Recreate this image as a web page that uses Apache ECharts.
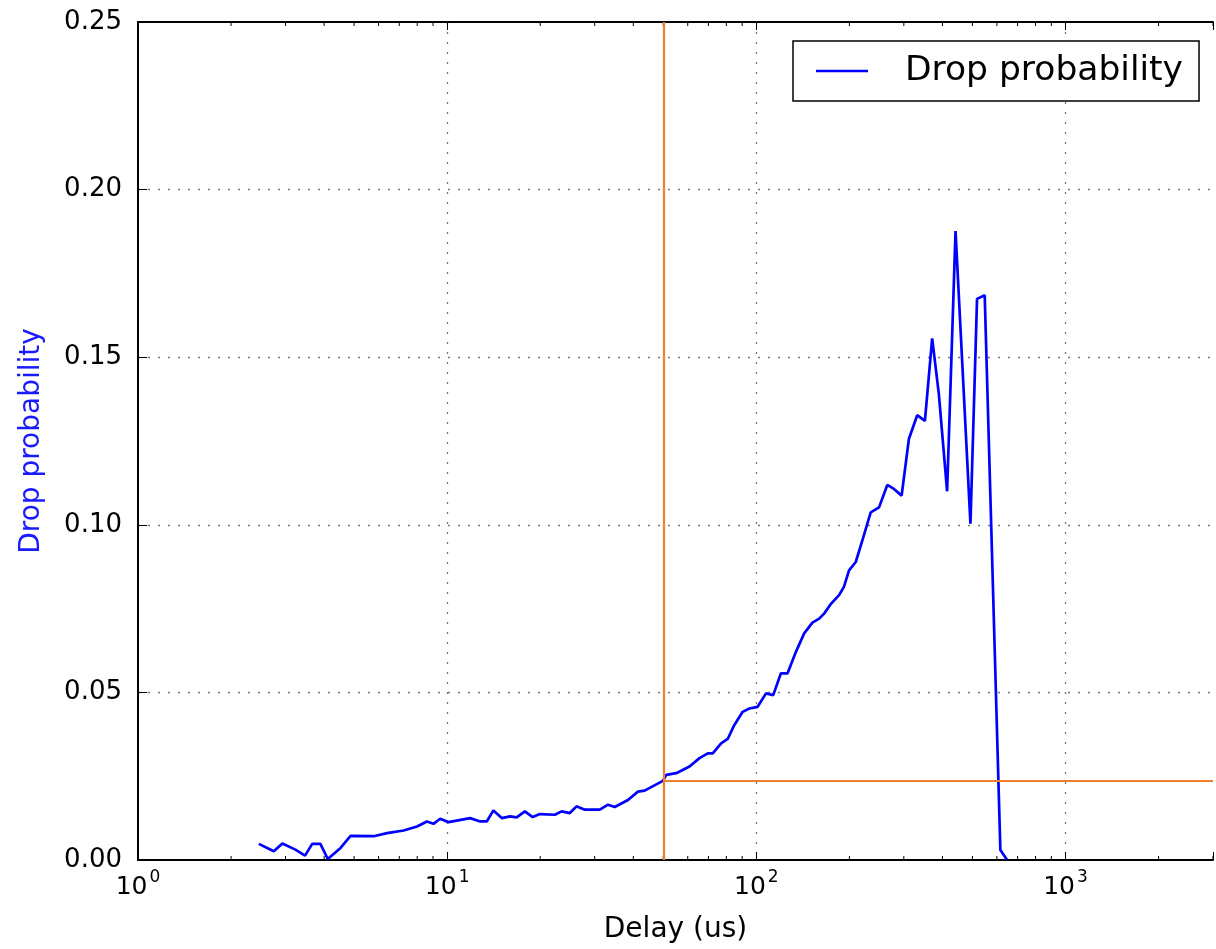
<!DOCTYPE html>
<html>
<head>
<meta charset="utf-8">
<script src="https://cdn.jsdelivr.net/npm/echarts@6/dist/echarts.min.js"></script>
<style>
html,body{margin:0;padding:0;background:#fff;}
#chart{width:1216px;height:949px;}
</style>
</head>
<body>
<div id="chart"></div>
<script>
// Delay (us) sample positions
const delays = [2.46, 2.75, 2.93, 3.23, 3.47, 3.66, 3.89, 4.11, 4.52, 4.87, 5.79, 6.39, 7.23, 7.99, 8.60, 9.03, 9.49, 10.1, 11.87, 12.78, 13.43, 14.11, 15.02, 15.97, 16.78, 17.84, 18.90, 19.95, 22.31, 23.44, 24.94, 26.20, 27.87, 31.16, 33.14, 34.83, 38.45, 41.41, 43.52, 49.86, 51.14, 55.08, 60.79, 65.49, 69.66, 72.28, 76.92, 80.79, 84.92, 90.33, 94.93, 100.97, 107.5, 113.4, 120.1, 126.2, 134.3, 142.8, 151.9, 159.7, 165.7, 174.6, 185.2, 192.0, 199.5, 209.7, 221.4, 234.4, 249.4, 265.2, 278.7, 295.1, 311.5, 331.4, 351.0, 370.5, 389.4, 414.1, 440.9, 492.7, 517.5, 547.9, 615.7, 646.6];
// Drop probability values
const dropProb = [0.0048, 0.0026, 0.0049, 0.0031, 0.0013, 0.0048, 0.0048, 0.0003, 0.0036, 0.0072, 0.0071, 0.0080, 0.0088, 0.0100, 0.0115, 0.0108, 0.0123, 0.0113, 0.0125, 0.0115, 0.0115, 0.0148, 0.0125, 0.0130, 0.0127, 0.0145, 0.0128, 0.0137, 0.0135, 0.0145, 0.0140, 0.0160, 0.0150, 0.0150, 0.0165, 0.0158, 0.0179, 0.0204, 0.0207, 0.0236, 0.0254, 0.0259, 0.0279, 0.0304, 0.0318, 0.0318, 0.0348, 0.0361, 0.0403, 0.0442, 0.0452, 0.0457, 0.0497, 0.0492, 0.0557, 0.0557, 0.0621, 0.0676, 0.0708, 0.0720, 0.0735, 0.0765, 0.0790, 0.0815, 0.0864, 0.0889, 0.0960, 0.1037, 0.1052, 0.1119, 0.1107, 0.1087, 0.1256, 0.1327, 0.1310, 0.1556, 0.1390, 0.1100, 0.1876, 0.1003, 0.1674, 0.1685, 0.0030, 0.0001];
// Threshold marker lines
const thresholdDelay = 50;
const thresholdProb = 0.0237;
// Axis ranges / ticks
const xMin = 1, xMax = 3000;
const yMin = 0, yMax = 0.25, yStep = 0.05;
const minorTicks = [2,3,4,5,6,7,8,9,20,30,40,50,60,70,80,90,200,300,400,500,600,700,800,900,2000,3000];

const FONT = 'DejaVu Sans';
const chart = echarts.init(document.getElementById('chart'));

const lineData = delays.map((d, i) => [d, dropProb[i]]);

function expLabel(v) {
  const e = Math.log10(v);
  const r = Math.round(e);
  if (Math.abs(e - r) > 1e-6 || v >= xMax * 0.999) return '';
  return '{b|10}{s|' + r + '}';
}

const option = {
  animation: false,
  backgroundColor: '#fff',
  grid: { left: 138, top: 22, width: 1077, height: 840, containLabel: false },
  legend: {
    left: 793, top: 41,
    orient: 'horizontal',
    padding: [12, 16, 12, 23],
    borderColor: '#000', borderWidth: 1.5, borderRadius: 0,
    backgroundColor: '#fff',
    itemWidth: 52, itemHeight: 2.5,
    data: [{ name: 'Drop probability', icon: 'rect' }],
    textStyle: { fontFamily: FONT, fontSize: 34.5, color: '#000', lineHeight: 36, padding: [0, 0, 0, 32] }
  },
  xAxis: [
    {
      type: 'log', logBase: 10, min: xMin, max: xMax, position: 'bottom',
      name: 'Delay (us)', nameLocation: 'middle', nameGap: 56,
      nameTextStyle: { fontFamily: FONT, fontSize: 28, color: '#000' },
      axisLine: { show: true, onZero: false, lineStyle: { color: '#000', width: 2 } },
      axisTick: { show: true, inside: true, length: 8, lineStyle: { color: '#000', width: 1 } },
      minorTick: { show: false },
      axisLabel: {
        margin: 8, color: '#000', formatter: expLabel,
        rich: {
          b: { fontFamily: FONT, fontSize: 25, color: '#000', lineHeight: 32, verticalAlign: 'bottom' },
          s: { fontFamily: FONT, fontSize: 17, color: '#000', lineHeight: 32, verticalAlign: 'bottom', padding: [0, 0, 14, 2] }
        }
      },
      splitLine: { show: true, showMinLine: false, showMaxLine: false, lineStyle: { color: '#777', width: 1.3, type: [2, 8] } }
    },
    {
      type: 'log', logBase: 10, min: xMin, max: xMax, position: 'top',
      axisLine: { show: true, onZero: false, lineStyle: { color: '#000', width: 2 } },
      axisTick: { show: true, inside: true, length: 8, lineStyle: { color: '#000', width: 1 } },
      axisLabel: { show: false },
      splitLine: { show: false }
    }
  ],
  yAxis: {
    type: 'value', min: yMin, max: yMax, interval: yStep,
    name: 'Drop probability', nameLocation: 'middle', nameGap: 92, nameRotate: 90,
    nameTextStyle: { fontFamily: FONT, fontSize: 28, color: '#1a1aff' },
    axisLine: { show: true, onZero: false, lineStyle: { color: '#000', width: 2 } },
    axisTick: { show: true, inside: true, length: 9, lineStyle: { color: '#000', width: 1 } },
    axisLabel: {
      margin: 16, fontFamily: FONT, fontSize: 26, color: '#000',
      formatter: v => v.toFixed(2)
    },
    splitLine: {
      show: true, showMinLine: false, showMaxLine: false,
      lineStyle: { color: '#777', width: 1.3, type: [2, 8] }
    }
  },
  series: [
    {
      name: 'Drop probability', type: 'line', xAxisIndex: 0,
      data: lineData, showSymbol: false, symbol: 'none',
      lineStyle: { color: '#0000ff', width: 2.7 },
      itemStyle: { color: '#0000ff' },
      z: 3,
      markLine: {
        silent: true, symbol: 'none', animation: false,
        label: { show: false },
        lineStyle: { color: '#f07f2a', width: 2.2, type: 'solid' },
        data: [
          [{ coord: [thresholdDelay, yMin] }, { coord: [thresholdDelay, yMax] }],
          [{ coord: [thresholdDelay, thresholdProb] }, { coord: [xMax, thresholdProb] }]
        ]
      }
    },
    {
      name: 'minor', type: 'custom', xAxisIndex: 0, silent: true, z: 4,
      data: minorTicks.map(v => [v, 0]),
      encode: { x: 0, y: 1 },
      renderItem: function (params, api) {
        const v = api.value(0);
        const pb = api.coord([v, yMin]);
        const pt = api.coord([v, yMax]);
        return {
          type: 'group',
          children: [
            { type: 'line', shape: { x1: pb[0], y1: pb[1], x2: pb[0], y2: pb[1] - 4 }, style: { stroke: '#000', lineWidth: 1 } },
            { type: 'line', shape: { x1: pt[0], y1: pt[1], x2: pt[0], y2: pt[1] + 4 }, style: { stroke: '#000', lineWidth: 1 } }
          ]
        };
      }
    }
  ]
};
chart.setOption(option);
</script>
</body>
</html>
